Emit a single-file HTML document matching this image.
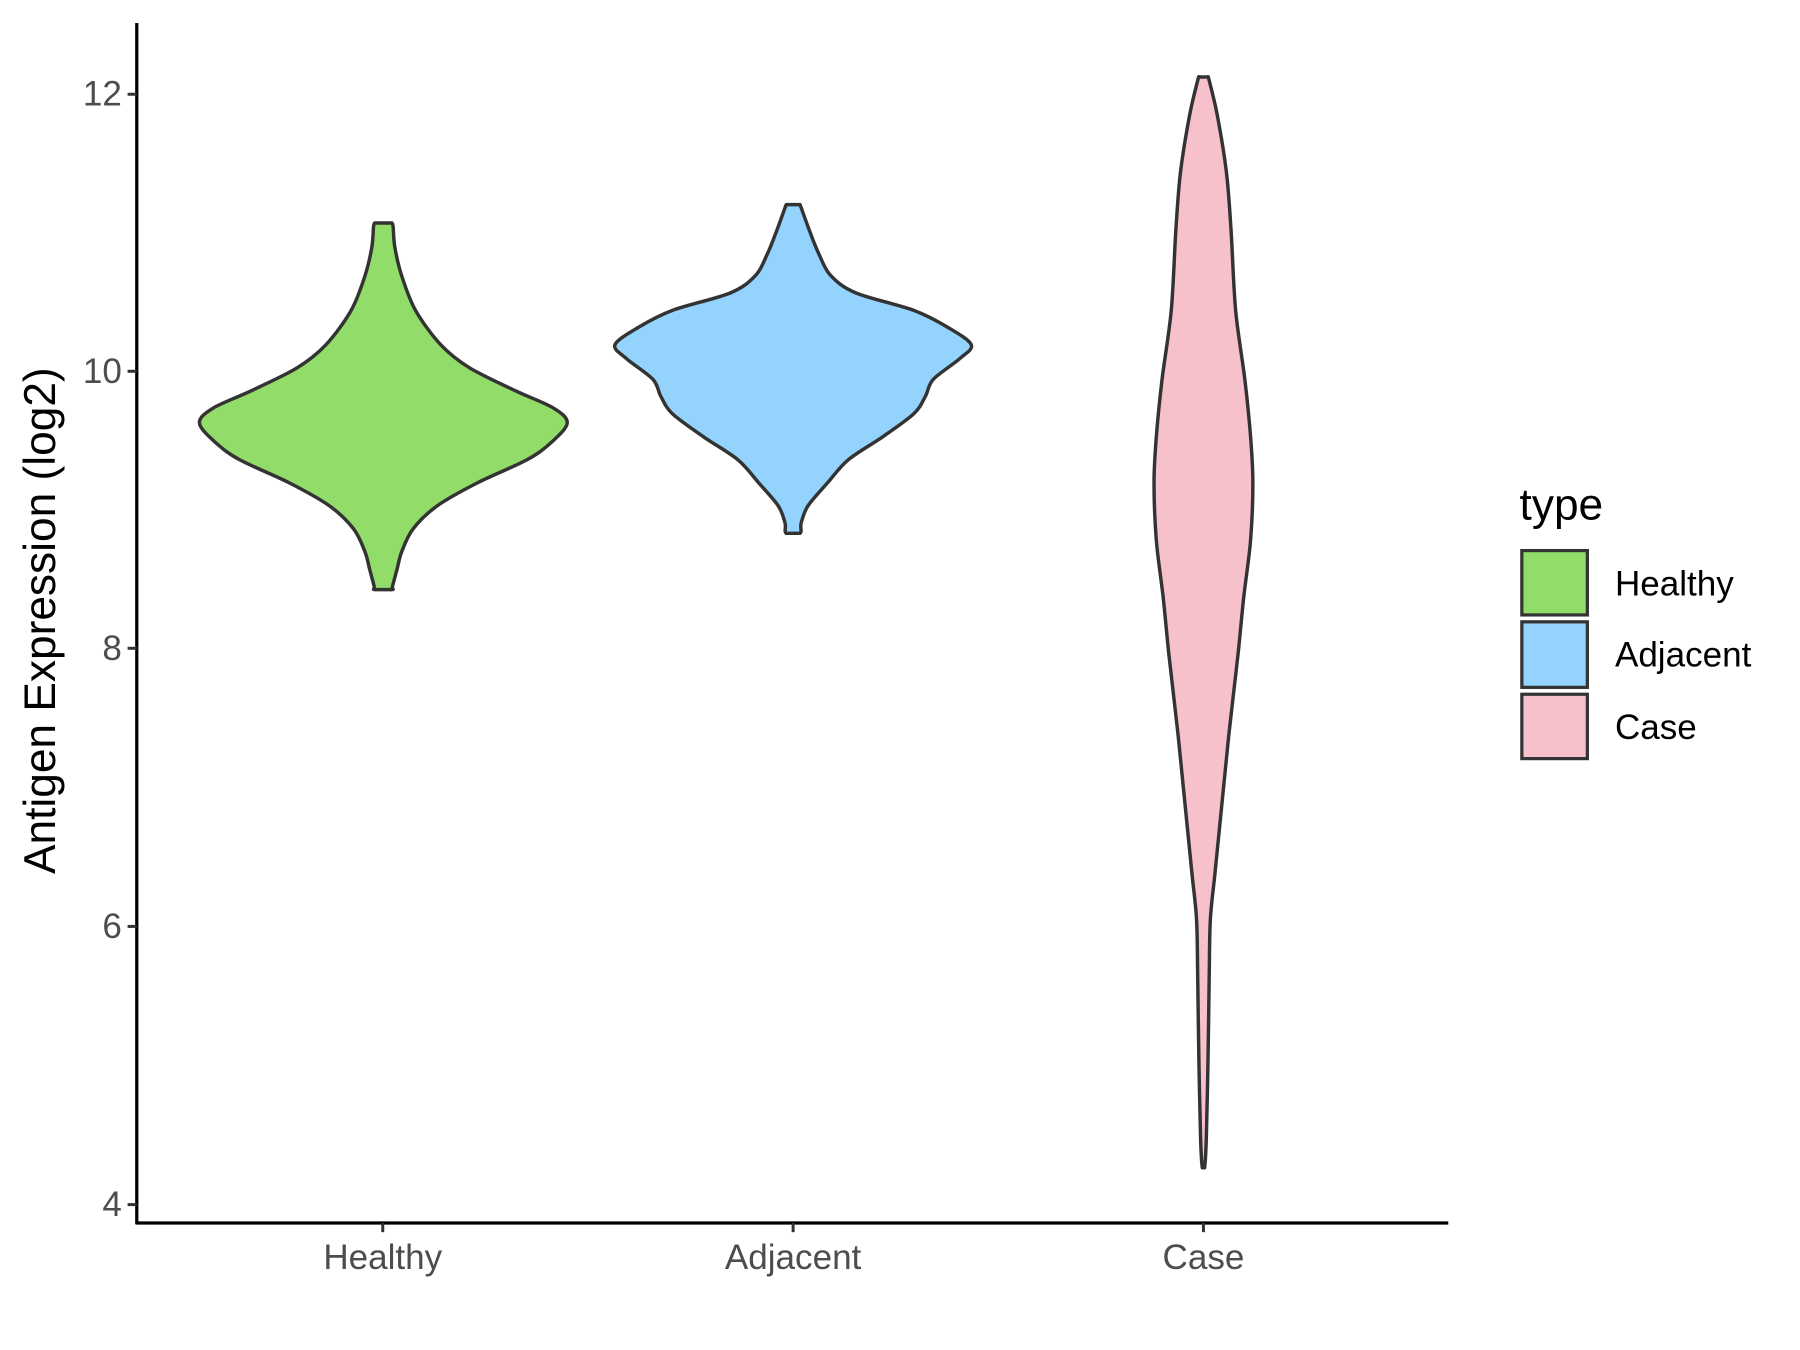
<!DOCTYPE html>
<html><head><meta charset="utf-8"><style>html,body{margin:0;padding:0;background:#fff}svg{display:block}</style></head>
<body>
<svg id="s" width="1800" height="1350" viewBox="0 0 1566 1174.5" preserveAspectRatio="none" xmlns="http://www.w3.org/2000/svg" font-family="Liberation Sans, Arial, sans-serif">
<rect width="1566" height="1175" fill="#fff"/>
<g id="v"></g>
<g stroke="#000" stroke-width="2.8" fill="none">
<line x1="119" y1="20" x2="119" y2="1065"/>
<line x1="118" y1="1064" x2="1260" y2="1064"/>
</g>
<g stroke="#333" stroke-width="2.6">
<line x1="111" y1="82" x2="119" y2="82"/><line x1="111" y1="323" x2="119" y2="323"/>
<line x1="111" y1="564" x2="119" y2="564"/><line x1="111" y1="806" x2="119" y2="806"/>
<line x1="111" y1="1048" x2="119" y2="1048"/>
<line x1="333" y1="1064" x2="333" y2="1072"/><line x1="690" y1="1064" x2="690" y2="1072"/>
<line x1="1047" y1="1064" x2="1047" y2="1072"/>
</g>
<g fill="#4d4d4d" font-size="30.5" text-anchor="end">
<text x="106" y="92">12</text><text x="106" y="333">10</text><text x="106" y="574">8</text>
<text x="106" y="816">6</text><text x="106" y="1058">4</text>
</g>
<g fill="#4d4d4d" font-size="30.5" text-anchor="middle">
<text x="333" y="1104">Healthy</text><text x="690" y="1104">Adjacent</text><text x="1047" y="1104">Case</text>
</g>
<text transform="translate(48,540) rotate(-90)" text-anchor="middle" font-size="38.5" fill="#000">Antigen Expression (log2)</text>
<text x="1322" y="452" font-size="38.5" fill="#000">type</text>
<g stroke="#333" stroke-width="2.8">
<rect x="1324" y="479" width="57" height="56" fill="#92dc69"/>
<rect x="1324" y="541" width="57" height="57" fill="#93d3fe"/>
<rect x="1324" y="604" width="57" height="56" fill="#f7c1cc"/>
</g>
<g font-size="30.5" fill="#000">
<text x="1405" y="518">Healthy</text><text x="1405" y="580">Adjacent</text><text x="1405" y="643">Case</text>
</g>
</svg>
<script>
function vio(cx,pts,fill){
  var R=pts.map(function(p){return [cx+p[1],p[0]]});
  var L=pts.slice().reverse().map(function(p){return [cx-p[1],p[0]]});
  var all=R.concat(L);
  var d="M"+all[0][0]+","+all[0][1];
  for(var i=0;i<all.length-1;i++){
    var p0=all[Math.max(i-1,0)],p1=all[i],p2=all[i+1],p3=all[Math.min(i+2,all.length-1)];
    var t=0.16;
    if(p1[1]==p2[1]){d+=" L"+p2[0]+","+p2[1];continue;}
    d+=" C"+(p1[0]+(p2[0]-p0[0])*t)+","+(p1[1]+(p2[1]-p0[1])*t)+" "+(p2[0]-(p3[0]-p1[0])*t)+","+(p2[1]-(p3[1]-p1[1])*t)+" "+p2[0]+","+p2[1];
  }
  d+=" Z";
  var e=document.createElementNS("http://www.w3.org/2000/svg","path");
  e.setAttribute("d",d);e.setAttribute("fill",fill);e.setAttribute("stroke","#333");e.setAttribute("stroke-width","3");e.setAttribute("stroke-linejoin","round");
  document.getElementById("v").appendChild(e);
}
vio(333.5,[[194,7.5],[197,8.5],[215,10],[240,16],[270,28],[300,50],[320,75],[340,115],[355,148],[368,160],[385,146],[400,125],[420,82],[440,47],[460,26],[480,16],[495,12],[510,8],[513,7.5]],"#92dc69");
vio(690,[[178,6],[182,7.5],[200,14],[220,22],[240,33],[255,55],[270,105],[285,135],[300,155],[312,145],[330,122],[345,115],[360,105],[380,78],[400,48],[420,30],[440,13],[455,7],[464,6]],"#93d3fe");
vio(1047,[[67,4],[70,5],[100,12],[150,20],[200,24],[270,28],[330,36],[380,41],[420,43],[470,41],[520,35],[570,30],[640,22],[700,16],[760,10],[800,6],[850,5],[920,4],[990,2.5],[1016,1]],"#f7c1cc");
</script>
</body></html>
